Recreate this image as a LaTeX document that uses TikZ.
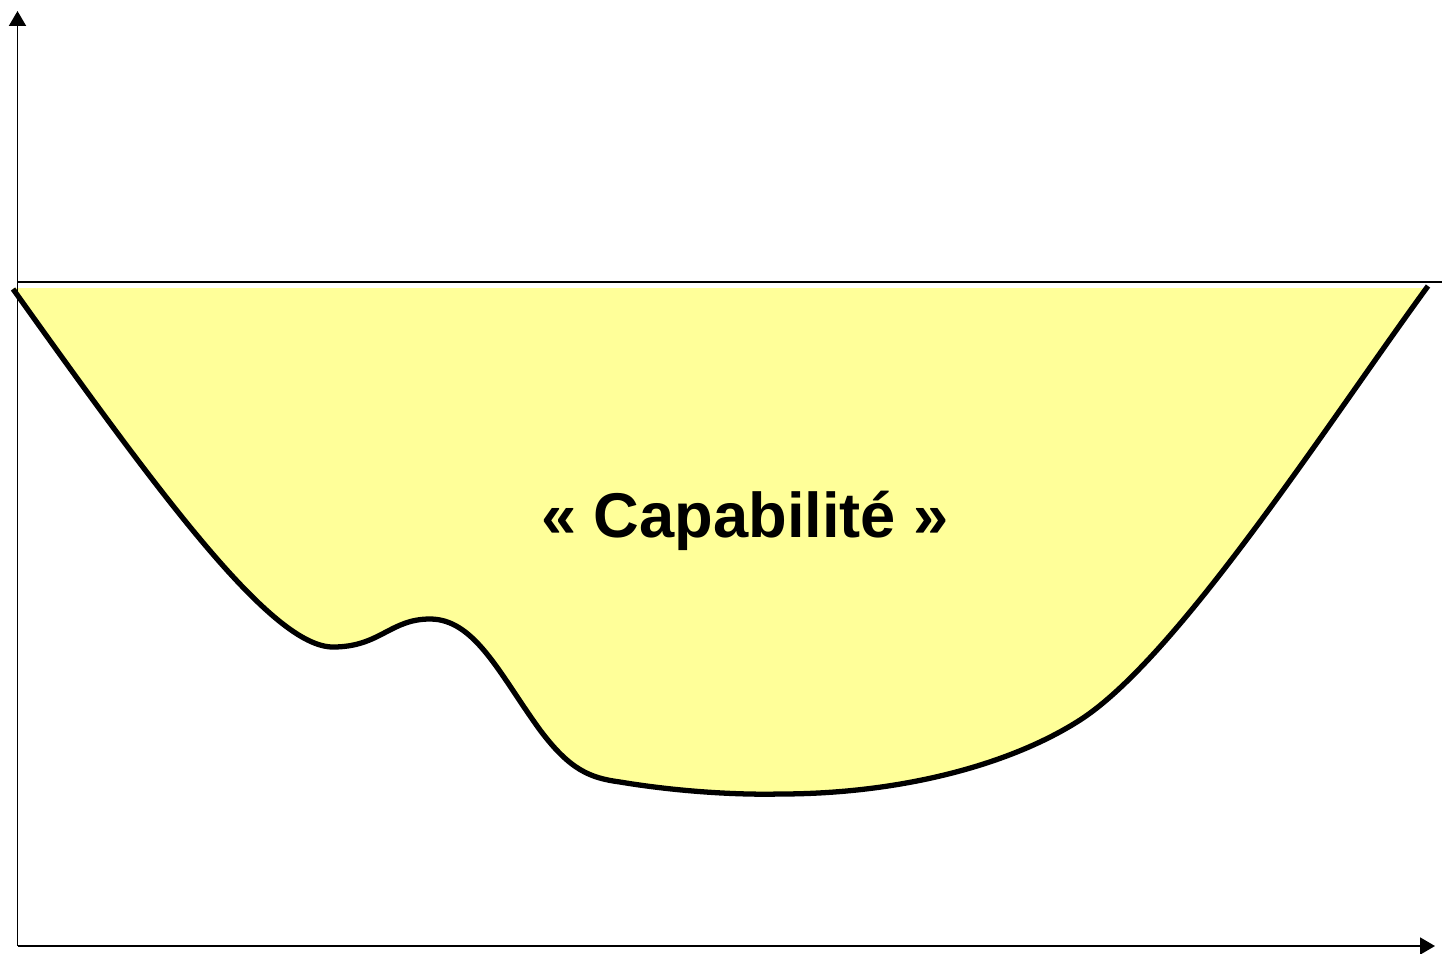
\documentclass[tikz,border=0pt]{standalone}
\usepackage{fontspec}
\setmainfont{Liberation Sans}
\definecolor{capayellow}{RGB}{255,255,153}
\tikzset{axis/.style = {-{Triangle[length=3mm,width=3.4mm]}, line width=1.1pt}}
\usetikzlibrary{arrows.meta}

\begin{document}
\begin{tikzpicture}[x = 0.02cm, y = -0.02cm]
    \useasboundingbox (0,0) rectangle (1442,953);
    \coordinate (O) at (17.5,946);
    \coordinate (ytop) at (17.5,11);
    \coordinate (xend) at (1435,946);
    \coordinate (lvlL) at (17.5,282);
    \coordinate (lvlR) at (1442,282);
    \fill[capayellow] (13,289) .. controls (160,495) and (272,647) .. (333,647)
        .. controls (380,647) and (390,619) .. (430,619)
        .. controls (475,619) and (500,675) .. (540,730)
        .. controls (570,770) and (590,778) .. (620,782)
        .. controls (680,792) and (740,795) .. (780,794)
        .. controls (900,794) and (1010,765) .. (1080,720)
        .. controls (1178,657) and (1328,423) .. (1428,286)
        -- (1428,288) -- (13,288) -- cycle;
    \draw[line width=3pt] (13,289) .. controls (160,495) and (272,647) .. (333,647)
        .. controls (380,647) and (390,619) .. (430,619)
        .. controls (475,619) and (500,675) .. (540,730)
        .. controls (570,770) and (590,778) .. (620,782)
        .. controls (680,792) and (740,795) .. (780,794)
        .. controls (900,794) and (1010,765) .. (1080,720)
        .. controls (1178,657) and (1328,423) .. (1428,286);
    \draw[line width=0.8pt] (lvlL) -- (lvlR);
    \draw[axis] (O) -- (ytop);
    \draw[axis] (O) -- (xend);
    \node[font=\bfseries\fontsize{36}{40}\selectfont, anchor=base] (capa) at (745,537) {« Capabilité »};
\end{tikzpicture}
\end{document}
